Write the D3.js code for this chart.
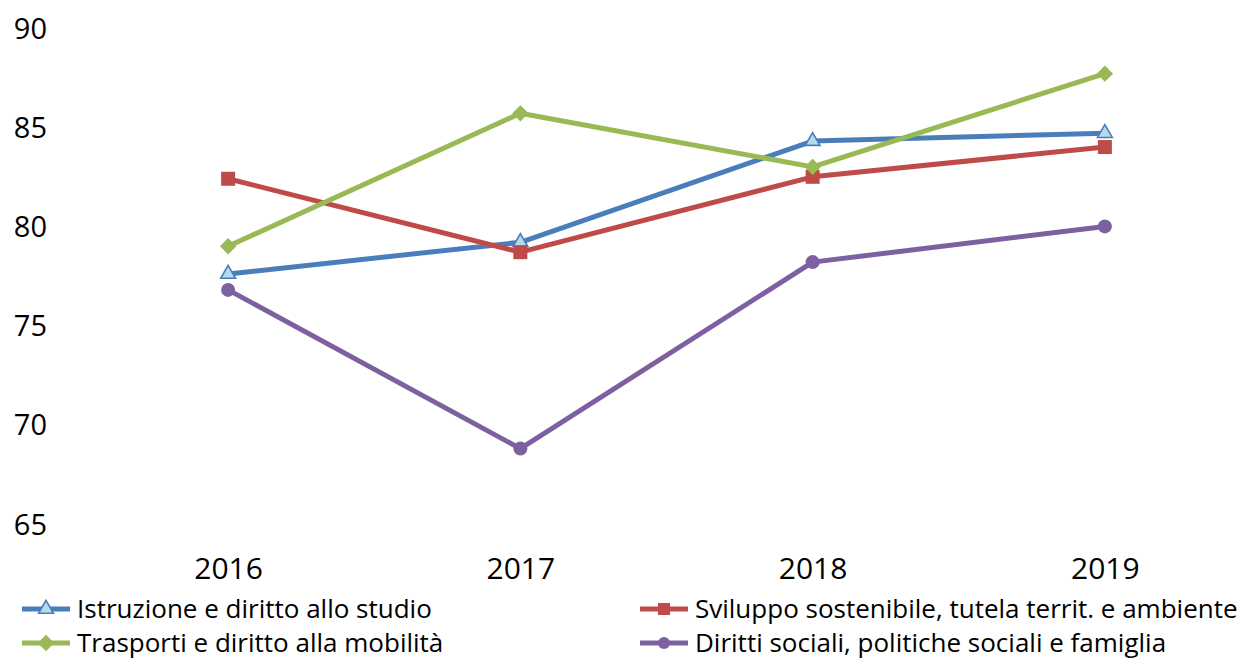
<!DOCTYPE html>
<html><head><meta charset="utf-8">
<script src="https://cdn.jsdelivr.net/npm/d3@7/dist/d3.min.js"></script>
<style>
html,body{margin:0;padding:0;background:#fff;}
svg{display:block;font-family:"Open Sans",sans-serif;}
</style></head>
<body>
<svg id="chart" width="1256" height="662"></svg>
<script>
const years = ["2016","2017","2018","2019"];
const yTicks = [65,70,75,80,85,90];
const seriesNames = [
  "Istruzione e diritto allo studio",
  "Sviluppo sostenibile, tutela territ. e ambiente",
  "Trasporti e diritto alla mobilità",
  "Diritti sociali, politiche sociali e famiglia"
];
const istruzione = [77.6, 79.2, 84.3, 84.7];
const sviluppo   = [82.4, 78.7, 82.5, 84.0];
const trasporti  = [79.0, 85.7, 83.0, 87.7];
const diritti    = [76.8, 68.8, 78.2, 80.0];

const colors = ["#4a7ebb","#be4b48","#98b954","#7d60a0"];
const shapes = ["triangle","square","diamond","circle"];
const allValues = [istruzione, sviluppo, trasporti, diritti];

const svg = d3.select("#chart");
const x = d3.scalePoint().domain(years).range([82,1251]).padding(0.5);
const y = d3.scaleLinear().domain([65,90]).range([524,28]);

const yAxis = d3.axisLeft(y).tickValues(yTicks).tickSize(0).tickPadding(0);
const gy = svg.append("g").attr("transform","translate(47,0)").call(yAxis);
gy.select(".domain").remove();
gy.selectAll("text").attr("font-size",29).attr("fill","#000").attr("font-family","Open Sans, sans-serif").attr("dy","0.35em");

const xAxis = d3.axisBottom(x).tickSize(0).tickPadding(0);
const gx = svg.append("g").attr("transform","translate(0,568)").call(xAxis);
gx.select(".domain").remove();
gx.selectAll("text").attr("font-size",30).attr("fill","#000").attr("font-family","Open Sans, sans-serif").attr("dy","0.35em");

function drawMarker(g, shape, color, cx, cy, s){
  if(shape==="triangle"){
    g.append("path").attr("d", d3.symbol(d3.symbolTriangle, 95)())
      .attr("transform",`translate(${cx},${cy})`)
      .attr("fill","#b3dbea").attr("stroke",color).attr("stroke-width",1.6);
  } else if(shape==="square"){
    g.append("rect").attr("x",cx-s/2).attr("y",cy-s/2).attr("width",s).attr("height",s).attr("fill",color);
  } else if(shape==="diamond"){
    g.append("path").attr("d", d3.symbol(d3.symbolDiamond2, 170)())
      .attr("transform",`translate(${cx},${cy})`).attr("fill",color);
  } else {
    g.append("circle").attr("cx",cx).attr("cy",cy).attr("r",s/2).attr("fill",color);
  }
}

const line = d3.line().x((d,i)=>x(years[i])).y(d=>y(d));
allValues.forEach((vals,k)=>{
  const g = svg.append("g");
  g.append("path").datum(vals).attr("d",line).attr("fill","none")
    .attr("stroke",colors[k]).attr("stroke-width",5).attr("stroke-linejoin","round");
  vals.forEach((v,i)=>drawMarker(g, shapes[k], colors[k], x(years[i]), y(v), 14));
});

const legendPos = [[22,609],[640,609],[22,643],[640,643]];
seriesNames.forEach((name,k)=>{
  const [lx,ly] = legendPos[k];
  const g = svg.append("g");
  g.append("line").attr("x1",lx).attr("x2",lx+48).attr("y1",ly).attr("y2",ly)
    .attr("stroke",colors[k]).attr("stroke-width",5);
  drawMarker(g, shapes[k], colors[k], lx+24, ly, 12);
  g.append("text").attr("x",lx+55).attr("y",ly).attr("dy","0.35em")
    .attr("font-size",26).attr("fill","#000").text(name);
});
</script>
</body></html>
